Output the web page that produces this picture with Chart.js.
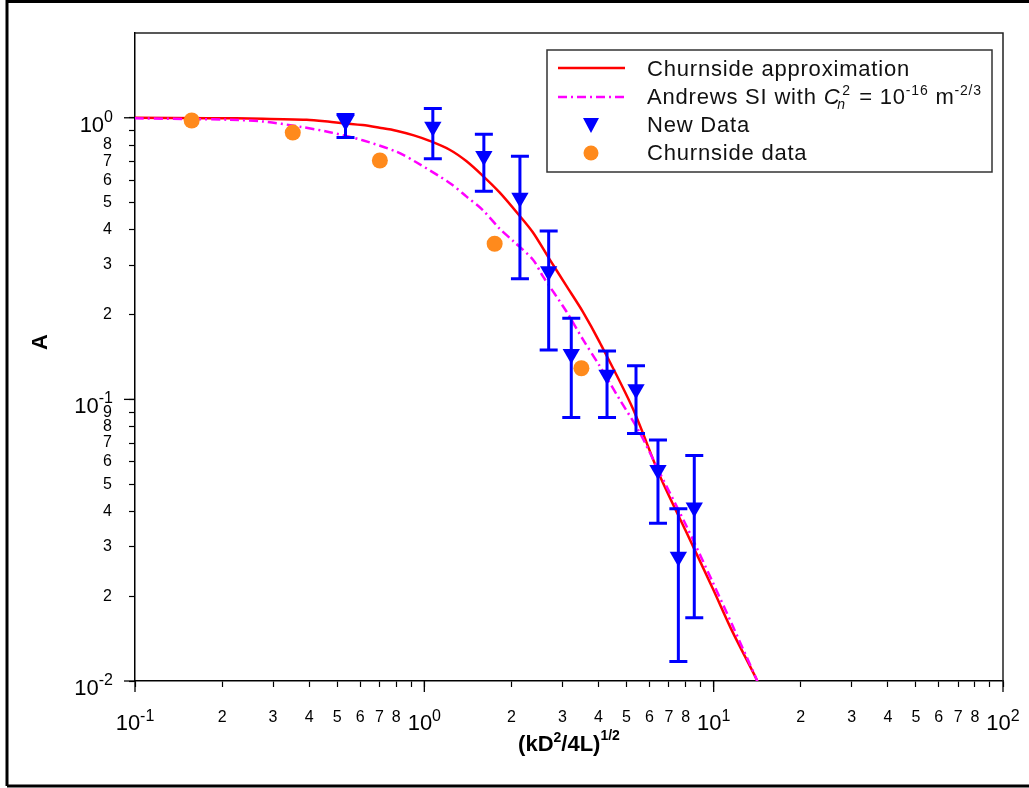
<!DOCTYPE html>
<html>
<head>
<meta charset="utf-8">
<script src="https://cdn.jsdelivr.net/npm/chart.js@4.4.0/dist/chart.umd.min.js"></script>
<style>
  body { margin: 0; background: #fff; }
  #wrap { position: relative; width: 1029px; height: 788px; }
</style>
</head>
<body>
<div id="wrap"><canvas id="chart" width="1029" height="788"></canvas></div>
<script>
// Churnside approximation (red solid)
const redX = [0.1, 0.18, 0.277, 0.392, 0.471, 0.612, 0.70, 0.80, 0.92, 1.043, 1.223, 1.396, 1.593, 1.82, 2.133, 2.371, 2.707, 3.09, 3.528, 4.03, 5.25, 6.49, 8.02, 9.91, 11.6, 14.0, 14.3];
const redY = [1.0, 0.997, 0.993, 0.984, 0.968, 0.942, 0.922, 0.900, 0.866, 0.828, 0.770, 0.702, 0.622, 0.543, 0.449, 0.392, 0.315, 0.254, 0.205, 0.1600, 0.0930, 0.0540, 0.0340, 0.0214, 0.0150, 0.01025, 0.0097];

// Andrews SI (magenta dash-dot)
const magX = [0.1, 0.213, 0.277, 0.371, 0.471, 0.612, 0.80, 0.938, 1.223, 1.396, 1.593, 1.82, 2.022, 2.371, 2.567, 3.09, 3.528, 4.03, 4.72, 5.54, 6.49, 8.02, 9.91, 11.6, 14.0, 14.3];
const magY = [0.996, 0.984, 0.970, 0.930, 0.889, 0.832, 0.758, 0.695, 0.587, 0.526, 0.470, 0.404, 0.366, 0.314, 0.274, 0.206, 0.1637, 0.1317, 0.1004, 0.0765, 0.0552, 0.0358, 0.0225, 0.0158, 0.01025, 0.0097];

// New Data (blue triangles) with error bars
const newX = [0.534, 1.07, 1.606, 2.14, 2.69, 3.22, 4.28, 5.39, 6.42, 7.55, 8.57];
const newY = [0.974, 0.930, 0.731, 0.520, 0.285, 0.145, 0.1222, 0.1086, 0.0561, 0.0276, 0.0413];
const newHi = [1.027, 1.079, 0.874, 0.730, 0.396, 0.194, 0.1485, 0.1317, 0.0718, 0.0409, 0.0632];
const newLo = [0.851, 0.716, 0.548, 0.268, 0.1498, 0.0863, 0.0863, 0.0757, 0.0363, 0.01174, 0.01676];

// Churnside data (orange circles)
const churnX = [0.157, 0.351, 0.702, 1.75, 3.49];
const churnY = [0.978, 0.886, 0.705, 0.357, 0.129];

// axis ticks
const xTickValues = [0.1, 0.2, 0.3, 0.4, 0.5, 0.6, 0.7, 0.8, 0.9,
  1, 2, 3, 4, 5, 6, 7, 8, 9,
  10, 20, 30, 40, 50, 60, 70, 80, 90, 100];
const xTickLabels = ['', '2', '3', '4', '5', '6', '7', '8', '',
  '', '2', '3', '4', '5', '6', '7', '8', '',
  '', '2', '3', '4', '5', '6', '7', '8', '', ''];
const xMajor = [0.1, 1, 10, 100];
const xMajorExp = ['-1', '0', '1', '2'];

const yTickValues = [0.01, 0.02, 0.03, 0.04, 0.05, 0.06, 0.07, 0.08, 0.09,
  0.1, 0.2, 0.3, 0.4, 0.5, 0.6, 0.7, 0.8, 0.9, 1];
const yTickLabels = ['', '2', '3', '4', '5', '6', '7', '8', '9',
  '', '2', '3', '4', '5', '6', '7', '8', '', ''];
const yMajor = [0.01, 0.1, 1];
const yMajorExp = ['-2', '-1', '0'];

const FONT = '"Liberation Sans", Arial, sans-serif';
const BLUE = '#0000ff';
const ORANGE = '#ff8a1c';

function pts(xs, ys) {
  return xs.map((x, i) => ({ x: x, y: ys[i] }));
}

// draw a run of text pieces: [text, size, raise, style]
function drawRich(ctx, x, y, parts, align) {
  let w = 0;
  parts.forEach(p => {
    ctx.font = (p[3] || '') + ' ' + p[1] + 'px ' + FONT;
    w += ctx.measureText(p[0]).width;
  });
  let cx = align === 'right' ? x - w : align === 'center' ? x - w / 2 : x;
  parts.forEach(p => {
    ctx.font = (p[3] || '') + ' ' + p[1] + 'px ' + FONT;
    ctx.fillText(p[0], cx, y - (p[2] || 0));
    cx += ctx.measureText(p[0]).width;
  });
  return cx;
}

const extras = {
  id: 'extras',
  afterDatasetsDraw(chart) {
    const ctx = chart.ctx;
    const xs = chart.scales.x, ys = chart.scales.y;
    // error bars
    ctx.save();
    ctx.strokeStyle = BLUE;
    ctx.lineWidth = 3;
    newX.forEach((x, i) => {
      const px = xs.getPixelForValue(x);
      const top = ys.getPixelForValue(newHi[i]);
      const bot = ys.getPixelForValue(newLo[i]);
      ctx.beginPath();
      ctx.moveTo(px, top); ctx.lineTo(px, bot);
      ctx.moveTo(px - 9, top); ctx.lineTo(px + 9, top);
      ctx.moveTo(px - 9, bot); ctx.lineTo(px + 9, bot);
      ctx.stroke();
    });
    ctx.restore();
  },
  afterDraw(chart) {
    const ctx = chart.ctx;
    const a = chart.chartArea;
    const xs = chart.scales.x, ys = chart.scales.y;
    ctx.save();

    // plot frame top / right
    ctx.strokeStyle = '#222';
    ctx.lineWidth = 1.5;
    ctx.beginPath();
    ctx.moveTo(a.left, a.top); ctx.lineTo(a.right, a.top); ctx.lineTo(a.right, a.bottom);
    ctx.stroke();

    // longer major ticks + major labels
    ctx.strokeStyle = '#000';
    ctx.lineWidth = 1.3;
    ctx.fillStyle = '#000';
    ctx.textBaseline = 'alphabetic';
    xMajor.forEach((v, i) => {
      const px = xs.getPixelForValue(v);
      ctx.beginPath(); ctx.moveTo(px, a.bottom); ctx.lineTo(px, a.bottom + 11); ctx.stroke();
      drawRich(ctx, px, 730, [['10', 22], [xMajorExp[i], 16, 9]], 'center');
    });
    yMajor.forEach((v, i) => {
      const py = ys.getPixelForValue(v);
      ctx.beginPath(); ctx.moveTo(a.left, py); ctx.lineTo(a.left - 11, py); ctx.stroke();
      drawRich(ctx, 113, py + 14, [['10', 22], [yMajorExp[i], 16, 10]], 'right');
    });

    // axis titles
    drawRich(ctx, 569, 751, [['(kD', 22, 0, 'bold'], ['2', 14, 9, 'bold'], ['/4L)', 22, 0, 'bold'], ['1/2', 14, 11, 'bold']], 'center');
    ctx.save();
    ctx.translate(47, 342);
    ctx.rotate(-Math.PI / 2);
    ctx.font = 'bold 22px ' + FONT;
    ctx.textAlign = 'center';
    ctx.fillText('A', 0, 0);
    ctx.restore();

    // legend
    ctx.fillStyle = '#fff';
    ctx.fillRect(547, 50, 445, 122);
    ctx.strokeStyle = '#333';
    ctx.lineWidth = 1.5;
    ctx.strokeRect(547, 50, 445, 122);

    ctx.lineWidth = 2.5;
    ctx.strokeStyle = '#ff0000';
    ctx.beginPath(); ctx.moveTo(558, 68); ctx.lineTo(625, 68); ctx.stroke();
    ctx.strokeStyle = '#ff00ff';
    ctx.setLineDash([9, 4, 2, 4]);
    ctx.beginPath(); ctx.moveTo(558, 97); ctx.lineTo(625, 97); ctx.stroke();
    ctx.setLineDash([]);

    ctx.fillStyle = BLUE;
    ctx.beginPath();
    ctx.moveTo(583, 118); ctx.lineTo(599, 118); ctx.lineTo(591, 133);
    ctx.closePath(); ctx.fill();
    ctx.fillStyle = ORANGE;
    ctx.beginPath(); ctx.arc(591, 153, 7.5, 0, Math.PI * 2); ctx.fill();

    ctx.fillStyle = '#111';
    ctx.letterSpacing = '0.8px';
    drawRich(ctx, 647, 76, [['Churnside approximation', 22]]);
    let cx = drawRich(ctx, 647, 104, [['Andrews SI with ', 22]]);
    ctx.font = 'italic 22px ' + FONT;
    ctx.fillText('C', cx, 104);
    cx += ctx.measureText('C').width;
    ctx.font = 'italic 14px ' + FONT;
    ctx.fillText('n', cx - 3, 109);
    ctx.font = '14px ' + FONT;
    ctx.fillText('2', cx + 2, 95);
    cx += 12;
    drawRich(ctx, cx, 104, [[' = 10', 22], ['-16', 14, 9], [' m', 22], ['-2/3', 14, 9]]);
    drawRich(ctx, 647, 132, [['New Data', 22]]);
    drawRich(ctx, 647, 160, [['Churnside data', 22]]);
    ctx.letterSpacing = '0px';

    // outer picture frame
    ctx.strokeStyle = '#000';
    ctx.lineWidth = 3;
    ctx.beginPath();
    ctx.moveTo(7, 786); ctx.lineTo(7, 1.5); ctx.lineTo(1029, 1.5);
    ctx.moveTo(7, 786); ctx.lineTo(1029, 786);
    ctx.stroke();
    ctx.restore();
  }
};

new Chart(document.getElementById('chart'), {
  type: 'scatter',
  data: {
    datasets: [
      {
        label: 'Churnside approximation',
        data: pts(redX, redY),
        showLine: true,
        borderColor: '#ff0000',
        borderWidth: 2.5,
        pointRadius: 0,
        tension: 0.3,
        order: 4
      },
      {
        label: 'Andrews SI',
        data: pts(magX, magY),
        showLine: true,
        borderColor: '#ff00ff',
        borderWidth: 2.5,
        borderDash: [9, 4, 2, 4],
        pointRadius: 0,
        tension: 0.3,
        order: 3
      },
      {
        label: 'Churnside data',
        data: pts(churnX, churnY),
        pointStyle: 'circle',
        pointRadius: 8,
        pointHoverRadius: 8,
        backgroundColor: ORANGE,
        borderWidth: 0,
        order: 2
      },
      {
        label: 'New Data',
        data: pts(newX, newY),
        pointStyle: 'triangle',
        rotation: 180,
        pointRadius: 10,
        pointHoverRadius: 10,
        backgroundColor: BLUE,
        borderWidth: 0,
        order: 1
      }
    ]
  },
  options: {
    responsive: false,
    animation: false,
    devicePixelRatio: 1,
    layout: { padding: { left: 0, top: 33, right: 26, bottom: 0 } },
    plugins: { legend: { display: false }, tooltip: { enabled: false } },
    scales: {
      x: {
        type: 'logarithmic',
        min: 0.1,
        max: 100,
        afterFit: s => { s.height = 107; },
        afterBuildTicks: s => { s.ticks = xTickValues.map(v => ({ value: v })); },
        border: { display: true, color: '#000', width: 1.5 },
        grid: { display: true, drawOnChartArea: false, drawTicks: true, tickLength: 6, tickColor: '#000', tickWidth: 1.2 },
        ticks: {
          autoSkip: false, maxRotation: 0, minRotation: 0, padding: 21,
          color: '#000', font: { family: FONT, size: 16 },
          callback: (v, i) => xTickLabels[i]
        }
      },
      y: {
        type: 'logarithmic',
        min: 0.01,
        max: 2,
        afterFit: s => { s.width = 135; },
        afterBuildTicks: s => { s.ticks = yTickValues.map(v => ({ value: v })); },
        border: { display: true, color: '#000', width: 1.5 },
        grid: { display: true, drawOnChartArea: false, drawTicks: true, tickLength: 6, tickColor: '#000', tickWidth: 1.2 },
        ticks: {
          autoSkip: false, padding: 17,
          color: '#000', font: { family: FONT, size: 16 },
          callback: (v, i) => yTickLabels[i]
        }
      }
    }
  },
  plugins: [extras]
});
</script>
</body>
</html>
